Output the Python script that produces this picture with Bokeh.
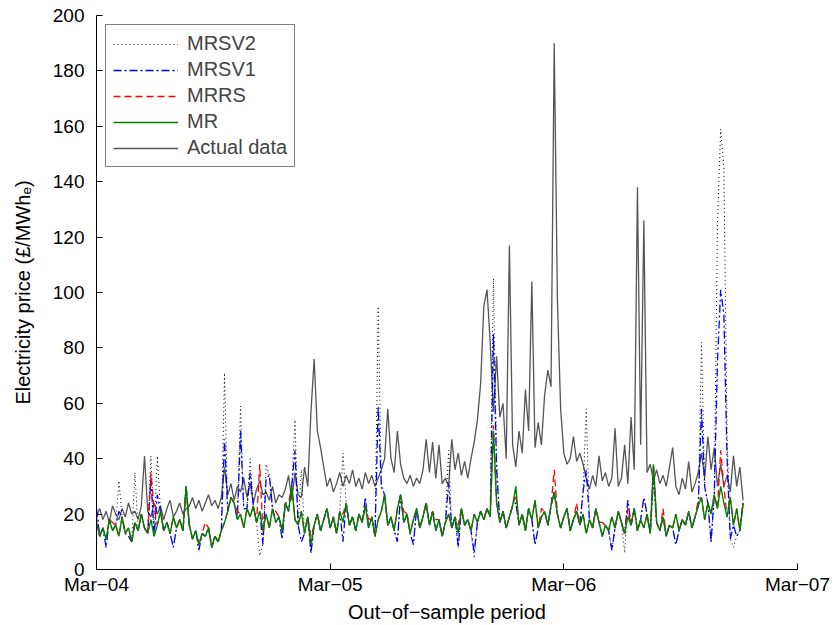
from bokeh.plotting import figure
from bokeh.models import Range1d, FixedTicker, Legend, LegendItem
from bokeh.embed import file_html
from bokeh.resources import INLINE

# sampling step of the read-off series (days from 1 March 2004)
step_days = 5

tick_days = [0, 365, 730, 1095]
tick_labels = ["Mar\u221204", "Mar\u221205", "Mar\u221206", "Mar\u221207"]
y_ticks = [0, 20, 40, 60, 80, 100, 120, 140, 160, 180, 200]

actual = [
    19, 22, 18, 21, 17, 23, 20, 18, 22, 19,
    24, 20, 21, 18, 23, 41, 21, 19, 24, 20,
    23, 18, 22, 25, 19, 21, 24, 20, 22, 23,
    26, 22, 25, 21, 24, 27, 23, 25, 22, 26,
    37, 27, 31, 25, 30, 28, 33, 26, 31, 24,
    29, 32, 27, 28, 25, 30, 24, 27, 26, 29,
    34, 25, 35, 27, 26, 37, 30, 57, 76, 50,
    44, 37, 30, 33, 28, 31, 35, 30, 34, 31,
    36, 30, 33, 29, 35, 31, 34, 30, 33, 36,
    40, 58, 40, 35, 50, 38, 33, 31, 34, 30,
    33, 31, 36, 47, 35, 46, 33, 45, 31, 33,
    30, 47, 36, 42, 34, 39, 33, 40, 46, 54,
    67, 95, 101, 82, 57, 77, 55, 60, 40, 117,
    45, 37, 50, 42, 65, 50, 104, 44, 53, 45,
    63, 72, 66, 190, 97, 58, 42, 38, 40, 48,
    39, 42, 38, 33, 29, 34, 30, 41, 32, 35,
    30, 33, 51, 30, 33, 45, 31, 55, 36, 138,
    45, 126, 35, 38, 32, 36, 31, 34, 30, 37,
    44, 30, 27, 33, 29, 39, 28, 31, 35, 42,
    33, 48, 36, 44, 30, 38, 30, 34, 28, 41,
    30, 37, 25,
]

mr = [
    17, 12, 15, 11, 18, 14, 16, 12, 19, 13,
    15, 10, 17, 14, 20, 15, 13, 18, 12, 16,
    21, 14, 17, 13, 19, 15, 18, 14, 30, 16,
    11, 14, 9, 13, 12, 15, 8, 12, 10, 14,
    17, 21, 26, 24, 18, 20, 15, 22, 19, 23,
    17, 21, 14, 20, 15, 22, 17, 19, 14, 24,
    21, 30, 18, 16, 21, 13, 19, 9, 16, 20,
    14, 18, 22, 15, 19, 13, 21, 17, 24, 16,
    19, 14, 20, 17, 23, 15, 19, 12, 18, 21,
    27, 16, 19, 14, 22, 27, 17, 20, 13, 18,
    22, 15, 19, 24, 16, 21, 14, 18, 12, 17,
    20, 15, 19, 13, 22, 16, 18, 14, 20, 17,
    21, 18, 22, 19, 50, 24, 17, 21, 15, 19,
    23, 30, 16, 20, 14, 22, 18, 25, 15, 19,
    21, 16, 23, 28, 20, 15, 19, 22, 14, 18,
    21, 16, 20, 13, 18, 15, 22, 17, 12, 16,
    14, 19, 15, 21, 17, 13, 19, 16, 22, 14,
    18, 15, 20, 13, 38, 17, 14, 19, 12, 16,
    15, 20, 14, 18, 16, 21, 15, 19, 23, 26,
    18, 24, 20, 27, 22, 30, 24, 19, 26, 16,
    22, 14, 24,
]

mrrs = [
    17, 12, 15, 11, 18, 17, 16, 12, 19, 13,
    15, 10, 17, 14, 20, 15, 13, 35, 22, 16,
    21, 14, 17, 13, 19, 15, 18, 14, 28, 16,
    11, 14, 9, 13, 17, 15, 8, 12, 10, 14,
    17, 21, 26, 24, 21, 20, 15, 22, 19, 23,
    17, 38, 13, 20, 15, 22, 21, 19, 14, 24,
    24, 30, 18, 16, 21, 13, 19, 12, 16, 20,
    14, 18, 22, 15, 19, 13, 21, 20, 24, 16,
    19, 14, 20, 17, 23, 18, 19, 12, 18, 21,
    27, 16, 19, 14, 22, 27, 21, 20, 13, 18,
    22, 15, 19, 24, 16, 21, 18, 18, 12, 17,
    20, 15, 19, 16, 22, 16, 18, 14, 20, 17,
    21, 18, 22, 19, 52, 24, 17, 21, 15, 19,
    23, 27, 16, 20, 14, 22, 18, 25, 15, 22,
    21, 16, 23, 36, 20, 15, 19, 22, 14, 18,
    24, 16, 20, 13, 18, 15, 22, 17, 17, 16,
    14, 19, 15, 21, 17, 13, 22, 16, 22, 14,
    18, 15, 20, 13, 38, 17, 14, 22, 12, 16,
    15, 20, 14, 18, 16, 21, 15, 19, 25, 26,
    18, 24, 20, 27, 22, 43, 30, 19, 26, 16,
    22, 14, 24,
]

mrsv1 = [
    22, 12, 15, 8, 18, 14, 16, 21, 19, 13,
    12, 10, 17, 14, 20, 15, 13, 33, 12, 27,
    21, 14, 17, 13, 8, 15, 18, 14, 30, 16,
    11, 14, 7, 13, 12, 15, 8, 12, 10, 14,
    47, 21, 26, 24, 18, 50, 22, 22, 35, 23,
    17, 21, 9, 33, 34, 22, 17, 19, 11, 24,
    21, 30, 43, 16, 10, 13, 19, 6, 16, 20,
    14, 18, 22, 15, 19, 13, 21, 10, 24, 16,
    19, 14, 20, 17, 26, 15, 19, 12, 59, 30,
    27, 16, 19, 14, 10, 27, 17, 20, 13, 9,
    22, 15, 19, 24, 16, 21, 14, 18, 12, 17,
    31, 15, 19, 8, 22, 16, 18, 14, 6, 17,
    21, 18, 22, 19, 85, 36, 17, 21, 15, 19,
    23, 24, 16, 20, 14, 22, 18, 9, 15, 19,
    21, 16, 23, 28, 20, 15, 19, 22, 14, 18,
    21, 16, 28, 36, 18, 15, 22, 17, 12, 16,
    14, 7, 15, 21, 17, 13, 25, 16, 22, 14,
    18, 26, 20, 13, 33, 17, 14, 19, 12, 16,
    15, 9, 14, 18, 16, 21, 15, 19, 23, 58,
    30, 24, 10, 27, 75, 101, 92, 40, 11, 16,
    12, 14, 24,
]

mrsv2 = [
    22, 12, 15, 8, 18, 14, 16, 32, 19, 13,
    12, 10, 35, 14, 20, 15, 13, 41, 12, 41,
    21, 14, 17, 13, 8, 15, 18, 14, 30, 16,
    11, 14, 7, 13, 12, 15, 8, 12, 10, 14,
    71, 21, 26, 24, 18, 59, 22, 22, 40, 23,
    17, 5, 9, 38, 34, 22, 17, 19, 11, 24,
    21, 30, 54, 16, 36, 13, 19, 6, 16, 20,
    14, 18, 22, 15, 19, 13, 21, 42, 24, 16,
    19, 14, 20, 17, 26, 15, 19, 12, 95, 30,
    27, 16, 19, 14, 10, 27, 17, 20, 13, 9,
    22, 15, 19, 24, 16, 21, 14, 18, 12, 17,
    43, 15, 19, 8, 22, 16, 18, 14, 4, 17,
    21, 18, 22, 19, 105, 40, 17, 21, 15, 19,
    23, 24, 16, 20, 14, 22, 18, 9, 15, 19,
    21, 16, 23, 28, 20, 15, 19, 22, 14, 18,
    21, 16, 28, 58, 18, 15, 22, 17, 12, 16,
    14, 7, 15, 21, 17, 6, 25, 16, 22, 14,
    18, 26, 20, 13, 33, 17, 14, 19, 12, 16,
    15, 9, 14, 18, 16, 21, 15, 19, 23, 82,
    30, 24, 10, 27, 125, 159, 145, 48, 11, 8,
    12, 14, 24,
]

days = [step_days * i for i in range(len(actual))]

FONT = "Liberation Sans"

p = figure(width=837, height=625, output_backend="svg", toolbar_location=None,
           x_range=Range1d(0, 1095), y_range=Range1d(0, 200),
           min_border_left=96, min_border_right=40, min_border_top=15,
           min_border_bottom=55)
p.outline_line_color = None
p.xgrid.visible = False
p.ygrid.visible = False
p.background_fill_color = "white"
p.border_fill_color = "white"

r_act = p.line(days, actual, line_color="#555555", line_width=1.3)
r_sv2 = p.line(days, mrsv2, line_color="black", line_width=1.0, line_dash="1 3")
r_sv1 = p.line(days, mrsv1, line_color="#0000ff", line_width=1.3, line_dash="8 3 2 3")
r_rs = p.line(days, mrrs, line_color="#ff0000", line_width=1.3, line_dash="7 4")
r_mr = p.line(days, mr, line_color="#008000", line_width=1.4)

for ax in (p.xaxis[0], p.yaxis[0]):
    ax.axis_line_color = "black"
    ax.axis_line_width = 1
    ax.major_tick_in = 6
    ax.major_tick_out = 0
    ax.minor_tick_line_color = None
    ax.major_tick_line_color = "black"
    ax.major_label_text_font = FONT
    ax.major_label_text_color = "black"
    ax.axis_label_text_font = FONT
    ax.axis_label_text_font_style = "normal"
    ax.axis_label_text_color = "black"

p.xaxis.ticker = FixedTicker(ticks=tick_days)
p.xaxis.major_label_overrides = {d: l for d, l in zip(tick_days, tick_labels)}
p.yaxis.ticker = FixedTicker(ticks=y_ticks)
p.xaxis.major_label_text_font_size = "19px"
p.yaxis.major_label_text_font_size = "19px"
p.xaxis.major_label_standoff = 4
p.yaxis.major_label_standoff = 12
p.xaxis.axis_label = "Out\u2212of\u2212sample period"
p.yaxis.axis_label = "Electricity price (\u00a3/MWh\u2091)"
p.xaxis.axis_label_text_font_size = "20px"
p.yaxis.axis_label_text_font_size = "20px"
p.xaxis.axis_label_standoff = 3
p.yaxis.axis_label_standoff = 16

legend = Legend(items=[
    LegendItem(label="MRSV2", renderers=[r_sv2]),
    LegendItem(label="MRSV1", renderers=[r_sv1]),
    LegendItem(label="MRRS", renderers=[r_rs]),
    LegendItem(label="MR", renderers=[r_mr]),
    LegendItem(label="Actual data", renderers=[r_act]),
], location="top_left")
legend.margin = 9
legend.padding = 7
legend.spacing = 3
legend.glyph_width = 65
legend.glyph_height = 18
legend.label_height = 18
legend.label_standoff = 9
legend.label_text_font = FONT
legend.label_text_font_size = "20px"
legend.border_line_color = "black"
legend.border_line_width = 1
legend.background_fill_color = "white"
legend.background_fill_alpha = 1.0
p.add_layout(legend)

open("out.html", "w").write(file_html(p, INLINE))
